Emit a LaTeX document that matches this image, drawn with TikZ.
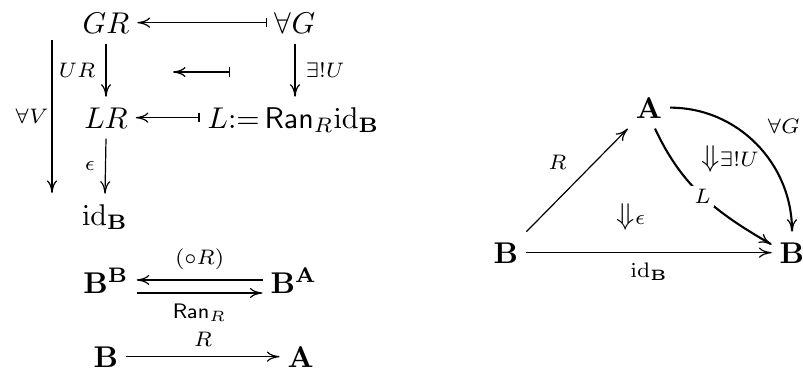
\documentclass[tikz,border=0pt]{standalone}
\usepackage{amsmath}
\usetikzlibrary{arrows.meta}
\begin{document}
\begin{tikzpicture}[x=0.33333pt,y=0.33333pt,
  obj/.style={inner xsep=2.5pt, inner ysep=3.33pt, text height=6.9pt, text depth=0pt},
  lab/.style={font=\scriptsize},
  tip/.tip={Computer Modern Rightarrow[length=4.2pt, width=3.4pt, line width=0.4pt]},
  arr/.style={-tip},
  mto/.style={{Bar[width=3.2pt]}-tip},
  curv/.style={-tip, line width=0.7pt}]
\useasboundingbox (0,0) rectangle (803,373);
% ---------------- left diagram ----------------
\node[obj, anchor=base] (GR) at (106,340) {$GR$};
\node[obj, anchor=base] (G) at (295,340) {$\forall G$};
\node[obj, anchor=base] (LR) at (106,245) {$LR$};
\node[obj, anchor=base west] (Ldef) at (199.5,245) {$L{:=}\,\mathsf{Ran}_R\mathrm{id}_{\mathbf B}$};
\node[obj, anchor=base] (idB) at (105,148) {$\mathrm{id}_{\mathbf B}$};
\coordinate (v1) at (52,333);
\coordinate (v2) at (52,180);
\coordinate (m1) at (230,301);
\coordinate (m2) at (173,301);

\draw[mto] (G.west) -- (GR.east);
\draw[mto] (m1) -- (m2);
\draw[mto] (Ldef.west |- LR.east) -- (LR.east);
\draw[arr] (GR.south) -- (LR.north) node[midway, left, lab] {$UR$};
\draw[arr] (G.south) -- (G.south |- Ldef.north) node[midway, right, lab] {$\exists!U$};
\draw[arr] (LR.south) -- (idB.north) node[midway, left, lab] {$\epsilon$};
\draw[arr] (v1) -- (v2) node[midway, left, inner xsep=1pt, lab] {$\forall V$};

% exponentials
\node[obj, anchor=base] (BB) at (106,80) {$\mathbf{B}^{\mathbf{B}}$};
\node[obj, anchor=base west] (BA) at (262.5,80) {$\mathbf{B}^{\mathbf{A}}$};
\draw[arr] ([yshift=0.9pt]BA.west) -- ([yshift=0.9pt]BB.east) node[midway, above, lab] {$(\circ R)$};
\draw[arr] ([yshift=-3.45pt]BB.east) -- ([yshift=-3.45pt]BA.west) node[midway, below, lab] {$\mathsf{Ran}_R$};

% bottom row
\node[obj, anchor=base] (Bb) at (106,6) {$\mathbf{B}$};
\node[obj, anchor=base west] (Ab) at (279.5,6) {$\mathbf{A}$};
\draw[arr] (Bb.east) -- (Ab.west) node[midway, above, lab] {$R$};

% ---------------- right diagram ----------------
\node[obj, anchor=base] (A) at (649,255) {$\mathbf{A}$};
\node[obj, anchor=base] (B1) at (506,110) {$\mathbf{B}$};
\node[obj, anchor=base] (B2) at (792,110) {$\mathbf{B}$};
\draw[arr] (B1.east) -- (B2.west) node[midway, below, lab] {$\mathrm{id}_{\mathbf B}$};
\draw[arr] (B1.north east) -- (A.south west) node[midway, above left, lab] {$R$};
\draw[curv] ([xshift=2pt]A.south) to[out=-65, in=150] node[midway, fill=white, inner sep=1pt, lab] {$L$} ([yshift=2.7pt]B2.west);
\draw[curv] (A.east) to[out=0, in=90] node[midway, above right, lab] {$\forall G$} (B2.north);
\node (u) at (730,214) {$\Downarrow\scriptstyle\exists!U$};
\node (e) at (631,156) {$\Downarrow\scriptstyle\epsilon$};
\end{tikzpicture}
\end{document}
